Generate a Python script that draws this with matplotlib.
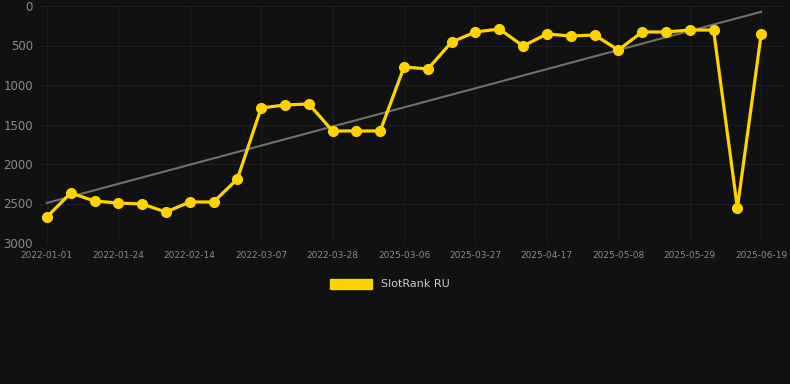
import matplotlib
matplotlib.use("Agg")
import matplotlib.pyplot as plt
import matplotlib.patches as mpatches
import numpy as np

# rank values per snapshot (lower is better, axis inverted)
ranks = [2670, 2367, 2468, 2494, 2506, 2608, 2481, 2481, 2190, 1291,
         1253, 1240, 1582, 1582, 1582, 772, 797, 456, 329, 291,
         506, 354, 380, 367, 557, 329, 329, 304, 304, 2557, 354]

# every third snapshot carries a date label
tick_labels = ["2022-01-01", "2022-01-24", "2022-02-14", "2022-03-07",
               "2022-03-28", "2025-03-06", "2025-03-27", "2025-04-17",
               "2025-05-08", "2025-05-29", "2025-06-19"]

bg = "#111111"
gold = "#ffd200"

fig = plt.figure(figsize=(7.9, 3.84), dpi=100, facecolor=bg)
ax = fig.add_axes([40 / 790, 1 - 243 / 384, 745 / 790, 237 / 384])
ax.set_facecolor(bg)

x = np.arange(len(ranks))

# linear trend line
k, b = np.polyfit(x, ranks, 1)
ax.plot(x, k * x + b, color="#707070", lw=1.5, zorder=2)

ax.plot(x, ranks, color=gold, lw=2.3, marker="o", markersize=7,
        markerfacecolor=gold, markeredgecolor=gold, zorder=3)

ax.set_xlim(-0.29, 31.0)
ax.set_ylim(3000, 0)
ax.set_yticks([0, 500, 1000, 1500, 2000, 2500, 3000])
ax.set_xticks(x[::3])
ax.set_xticklabels(tick_labels)

ax.grid(True, color="#1e1e1e", lw=0.8)
for s in ax.spines.values():
    s.set_visible(False)
ax.tick_params(axis="y", colors="#8a8a8a", labelsize=8.5, length=0, pad=5)
ax.tick_params(axis="x", colors="#8a8a8a", labelsize=6.5, length=0, pad=6)

# legend drawn below the axes
handle = mpatches.Patch(color=gold, label="SlotRank RU")
fig.legend(handles=[handle], loc="center", bbox_to_anchor=(390 / 790, 1 - 284 / 384),
           frameon=False, handlelength=3.8, handleheight=1.0, fontsize=8,
           labelcolor="#cccccc")

fig.savefig("out.png", dpi=100, facecolor=bg)
